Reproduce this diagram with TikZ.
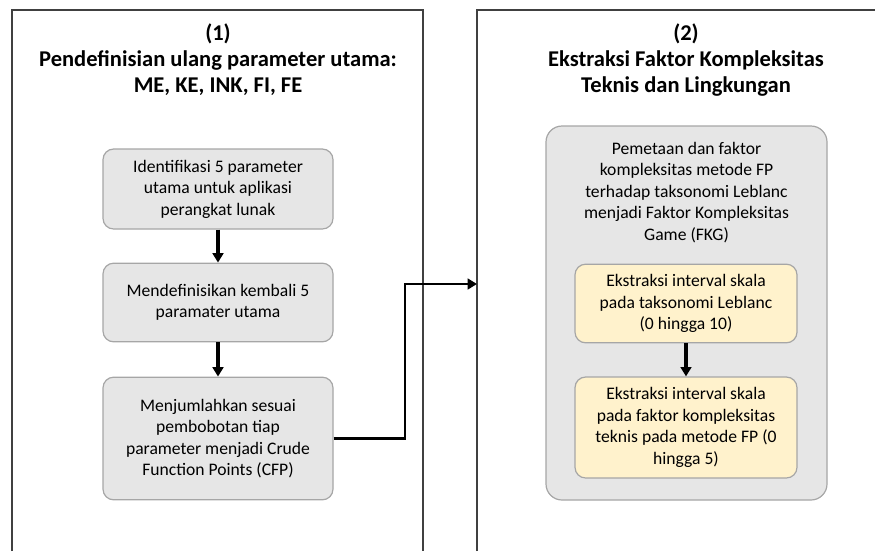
\documentclass[tikz,border=0pt]{standalone}
\usepackage{fontspec}
\setmainfont{Carlito}
\usetikzlibrary{arrows.meta}

\definecolor{framegray}{HTML}{404040}
\definecolor{boxgray}{HTML}{E6E6E6}
\definecolor{edgegray}{HTML}{A6A6A6}
\definecolor{boxyellow}{HTML}{FFF2CC}

\begin{document}
\begin{tikzpicture}[
    x=0.75pt, y=-0.75pt,
    box/.style={draw=edgegray, fill=boxgray, rounded corners=8pt, line width=0.9pt,
                minimum width=172.5pt, align=center,
                font=\fontsize{13.2}{16.1}\selectfont},
    yellowbox/.style={box, fill=boxyellow, minimum width=166.5pt},
    bigbox/.style={draw=edgegray, fill=boxgray, rounded corners=12pt, line width=0.9pt,
                   minimum width=210.75pt, minimum height=280.5pt},
    title/.style={align=center, font=\fontsize{16.9}{19.5}\selectfont\bfseries},
    frame/.style={draw=framegray, line width=1.5pt},
    arrow/.style={-{Triangle[width=8pt,length=7pt]}, line width=2.4pt}
  ]
  \useasboundingbox (0,0) rectangle (875,551);
  % Bingkai tahap
  \draw[frame] (12,551) -- (12,9.5) -- (423,9.5) -- (423,551);
  \draw[frame] (477,551) -- (477,9.5) -- (875,9.5);
  % Judul
  \node[title] (judul1) at (218,60) {(1)\\Pendefinisian ulang parameter utama:\\ME, KE, INK, FI, FE};
  \node[title] (judul2) at (686,60) {(2)\\Ekstraksi Faktor Kompleksitas\\Teknis dan Lingkungan};
  % Tahap 1
  \node[box, minimum height=60pt] (identifikasi) at (218,189) {Identifikasi 5 parameter\\utama untuk aplikasi\\perangkat lunak};
  \node[box, minimum height=59pt] (definisi) at (218,302.5) {Mendefinisikan kembali 5\\paramater utama};
  \node[box, minimum height=92pt] (cfp) at (218,438.5) {Menjumlahkan sesuai\\pembobotan tiap\\parameter menjadi Crude\\Function Points (CFP)};
  % Tahap 2
  \node[bigbox] (pemetaan) at (686.5,313) {};
  \node[align=center, font=\fontsize{13.2}{16.1}\selectfont] (pemetaanteks) at (686.5,192.5)
    {Pemetaan dan faktor\\kompleksitas metode FP\\terhadap taksonomi Leblanc\\menjadi Faktor Kompleksitas\\Game (FKG)};
  \node[yellowbox, minimum height=59pt] (leblanc) at (686,303.5) {Ekstraksi interval skala\\pada taksonomi Leblanc\\(0 hingga 10)};
  \node[yellowbox, minimum height=75.75pt] (teknis) at (686,427.5) {Ekstraksi interval skala\\pada faktor kompleksitas\\teknis pada metode FP (0\\hingga 5)};
  % Panah
  \coordinate (belok) at (405,284);
  \coordinate (masuk) at (477,284);
  \draw[arrow] (identifikasi) -- (definisi);
  \draw[arrow] (definisi) -- (cfp);
  \draw[arrow] (leblanc) -- (teknis);
  \draw[arrow, line width=2.2pt, rounded corners=0pt] (cfp.east) -| (belok) -- (masuk);
\end{tikzpicture}
\end{document}
